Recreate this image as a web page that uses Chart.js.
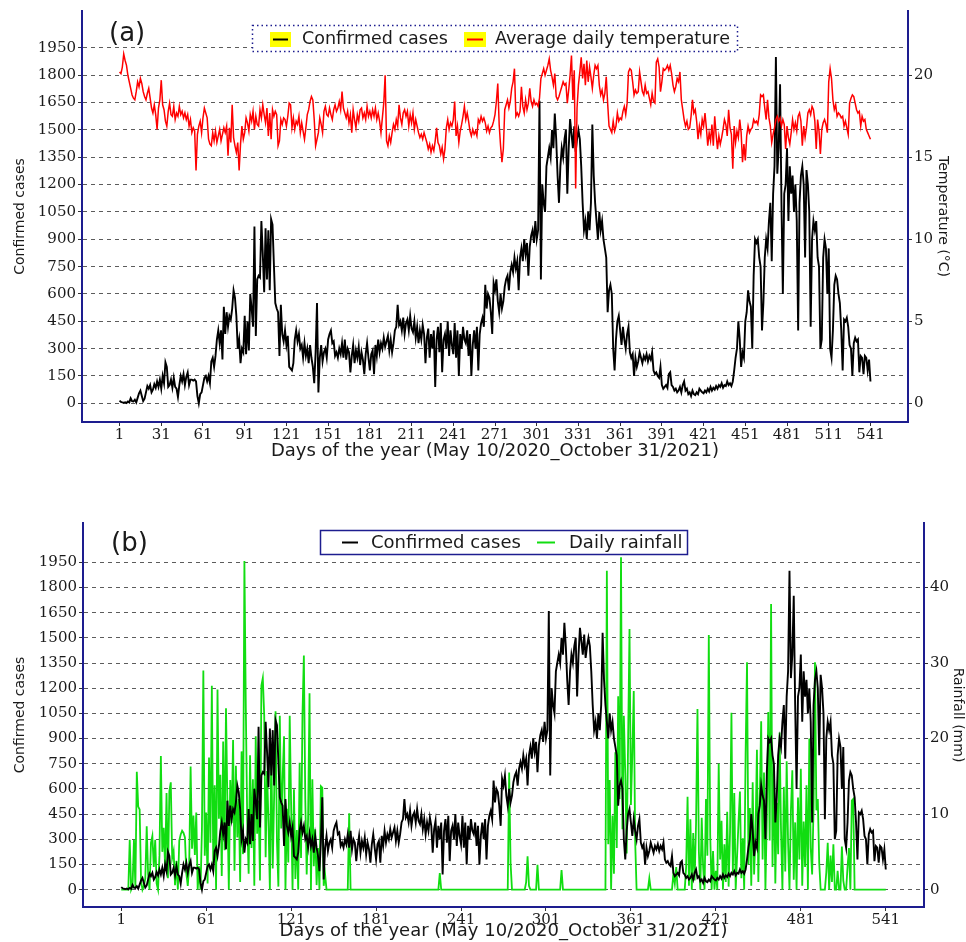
<!DOCTYPE html>
<html>
<head>
<meta charset="utf-8">
<script src="https://cdn.jsdelivr.net/npm/chart.js@4.4.0/dist/chart.umd.min.js"></script>
<style>
html,body{margin:0;padding:0;background:#fff;}
#wrap{position:relative;width:966px;height:942px;overflow:hidden;background:#fff;}
canvas{position:absolute;left:0;}
#ca{top:0;}
#cb{top:470px;}
</style>
</head>
<body>
<div id="wrap">
<canvas id="ca" width="966" height="470"></canvas>
<canvas id="cb" width="966" height="472"></canvas>
</div>
<script>
// ---------------- DATA ----------------
const panelLabels = ['(a)', '(b)'];
const legendA = ['Confirmed cases', 'Average daily temperature'];
const legendB = ['Confirmed cases', 'Daily rainfall'];
const xTitle = 'Days of the year (May 10/2020_October 31/2021)';
const yTitle = 'Confirmed cases';
const tempTitle = 'Temperature (\u00B0C)';
const rainTitle = 'Rainfall (mm)';

const xTicksA = [1, 31, 61, 91, 121, 151, 181, 211, 241, 271, 301, 331, 361, 391, 421, 451, 481, 511, 541];
const xTicksB = [1, 61, 121, 181, 241, 301, 361, 421, 481, 541];
const caseTicks = [0, 150, 300, 450, 600, 750, 900, 1050, 1200, 1350, 1500, 1650, 1800, 1950];
const tempTicks = [0, 5, 10, 15, 20];
const rainTicks = [0, 10, 20, 30, 40];

// daily confirmed cases, day 1..541
const cases = [
15, 8, 5, 3, 6, 2, 10, 5, 28, 12,
10, 20, 5, 30, 55, 70, 40, 12, 25, 60,
95, 80, 100, 60, 75, 105, 85, 120, 90, 130,
80, 150, 110, 225, 200, 90, 100, 130, 85, 140,
90, 80, 35, 100, 150, 120, 160, 100, 145, 170,
100, 130, 130, 125, 130, 120, 40, 0, 50, 60,
100, 140, 150, 120, 150, 110, 230, 250, 200, 260,
350, 400, 330, 400, 240, 530, 380, 500, 420, 480,
460, 520, 620, 580, 480, 300, 350, 220, 300, 280,
480, 270, 450, 290, 600, 520, 420, 970, 370, 680,
700, 690, 1000, 820, 610, 960, 680, 950, 620, 1010,
980, 760, 550, 520, 500, 260, 540, 380, 340, 400,
320, 370, 200, 190, 180, 220, 350, 400, 340, 380,
300, 320, 250, 330, 260, 300, 220, 320, 250, 200,
110, 280, 550, 60, 250, 320, 230, 280, 300, 250,
350, 380, 400, 330, 340, 260, 280, 250, 300, 270,
330, 250, 350, 240, 300, 280, 170, 260, 320, 220,
290, 250, 310, 210, 280, 240, 160, 270, 330, 250,
180, 270, 290, 160, 320, 260, 350, 280, 330, 300,
360, 310, 340, 370, 290, 350, 280, 330, 400, 420,
540, 430, 450, 400, 470, 380, 440, 460, 400, 480,
410, 390, 450, 360, 420, 330, 400, 350, 430, 380,
220, 360, 410, 250, 380, 300, 400, 90, 350, 420,
280, 440, 170, 350, 380, 300, 450, 260, 400, 320,
270, 440, 250, 400, 150, 380, 300, 420, 350, 330,
400, 260, 380, 150, 320, 400, 300, 420, 180, 380,
440, 470, 420, 650, 520, 600, 580, 500, 380, 660,
620, 680, 560, 500, 600, 520, 560, 640, 680, 700,
620, 720, 760, 720, 800, 740, 780, 620, 800, 850,
780, 900, 820, 880, 700, 860, 920, 950, 880, 1000,
900, 950, 1660, 680, 1200, 1100, 1050, 1300, 1350, 1400,
1350, 1500, 1400, 1590, 1450, 1250, 1100, 1300, 1400, 1350,
1450, 1500, 1150, 1400, 1560, 1480, 1400, 1520, 1380, 1450,
1500, 1450, 1300, 1100, 950, 1000, 900, 1050, 950, 1100,
1530, 1250, 1100, 1000, 900, 1050, 950, 1000, 900, 850,
800, 500, 620, 650, 600, 300, 180, 350, 450, 480,
400, 320, 420, 350, 300, 380, 420, 280, 250, 270,
150, 250, 200, 230, 280, 250, 220, 260, 240, 270,
230, 260, 240, 280, 180, 160, 170, 150, 140, 200,
100, 80, 90, 100, 85, 160, 170, 100, 90, 70,
80, 60, 70, 90, 60, 100, 120, 70, 80, 50,
60, 40, 70, 50, 45, 60, 50, 80, 70, 60,
55, 70, 60, 80, 65, 90, 70, 85, 75, 95,
80, 100, 90, 110, 85, 100, 95, 120, 100, 110,
95, 120, 180, 250, 300, 450, 350, 200, 280, 250,
450, 500, 620, 560, 530, 300, 700, 900, 880, 900,
800, 750, 400, 550, 800, 900, 850, 1000, 1100, 780,
1150, 1300, 1900, 1260, 1400, 1750, 1100, 600, 1150, 1200,
1400, 1000, 1300, 1150, 1250, 1050, 1200, 1000, 400, 1100,
1250, 1300, 1200, 800, 1280, 1200, 1050, 420, 900, 1000,
950, 1000, 800, 750, 300, 350, 800, 900, 850, 600,
850, 300, 250, 400, 650, 700, 680, 600, 550, 400,
180, 460, 450, 470, 420, 320, 300, 150, 330, 360,
340, 350, 170, 260, 250, 160, 260, 250, 180, 240,
120
];

// average daily temperature (deg C), day 1..541
const temperature = [
20.2, 20.1, 20.5, 21.3, 20.9, 20.6, 20.0, 19.6, 19.2, 18.8,
18.6, 18.5, 19.0, 19.6, 19.3, 19.8, 19.5, 19.0, 18.7, 18.5,
18.9, 19.2, 18.6, 18.0, 17.7, 18.2, 17.6, 16.7, 18.0, 18.5,
19.7, 18.2, 17.9, 17.2, 16.9, 17.8, 18.3, 17.6, 17.5, 18.1,
17.3, 17.7, 17.5, 18.1, 17.6, 17.8, 17.4, 17.7, 17.3, 17.6,
16.9, 17.3, 16.5, 16.8, 16.6, 14.2, 16.4, 16.9, 17.2, 16.5,
17.4, 18.0, 17.7, 17.4, 16.1, 15.8, 15.7, 16.5, 16.0, 16.6,
15.9, 16.3, 16.7, 16.0, 16.4, 16.8, 16.5, 16.9, 15.1, 16.8,
15.9, 18.2, 16.2, 15.7, 15.3, 15.9, 14.2, 15.8, 16.9, 16.1,
16.5, 17.4, 17.1, 16.6, 17.6, 17.2, 17.8, 16.7, 17.5, 17.0,
16.9, 17.9, 17.4, 18.2, 17.6, 17.1, 18.0, 16.3, 17.7, 16.1,
17.9, 17.5, 17.8, 17.6, 15.7, 16.0, 17.3, 17.0, 17.4, 17.3,
16.9, 17.5, 18.3, 18.2, 16.8, 17.4, 16.7, 17.2, 17.0, 17.5,
16.5, 17.1, 16.6, 16.1, 16.8, 17.6, 17.9, 18.4, 18.7, 18.5,
17.3, 15.7, 16.1, 16.5, 17.4, 17.0, 16.5, 17.8, 18.1, 17.6,
17.5, 18.0, 17.6, 17.3, 17.9, 18.2, 17.8, 18.0, 18.4, 17.9,
19.0, 18.0, 17.7, 17.4, 17.8, 17.1, 17.6, 16.5, 17.9, 17.3,
16.8, 17.6, 17.2, 17.9, 18.0, 17.4, 17.7, 17.3, 18.1, 17.5,
17.8, 17.4, 17.9, 17.5, 18.0, 17.3, 17.7, 17.2, 16.5, 17.4,
18.3, 20.0, 16.0, 15.7, 16.3, 15.9, 16.5, 17.0, 16.7, 17.3,
16.9, 18.2, 17.4, 17.0, 17.7, 17.9, 17.5, 17.8, 16.9, 17.6,
17.1, 17.7, 16.7, 17.3, 16.9, 16.5, 16.2, 16.4, 16.1, 16.5,
16.2, 15.9, 15.5, 15.8, 15.3, 15.7, 15.4, 16.0, 16.8, 15.9,
15.7, 15.2, 15.6, 14.9, 15.5, 16.8, 17.3, 16.7, 17.1, 16.9,
17.3, 18.4, 16.3, 16.9, 15.9, 16.6, 17.0, 17.5, 18.1, 17.3,
17.7, 17.2, 16.6, 16.3, 16.7, 16.4, 16.6, 16.3, 17.3, 17.1,
17.5, 17.2, 17.4, 17.1, 16.6, 16.9, 16.5, 16.8, 16.9, 17.2,
17.6, 18.4, 19.5, 17.0, 15.7, 14.7, 15.5, 17.9, 18.2, 18.5,
18.0, 18.4, 19.2, 19.6, 20.4, 17.5, 17.7, 17.5, 17.8, 19.3,
18.1, 17.7, 18.5, 17.9, 18.3, 19.2, 18.4, 18.1, 18.5, 18.2,
18.3, 18.1, 18.6, 19.8, 20.1, 20.4, 20.0, 20.3, 20.6, 21.0,
20.3, 19.9, 19.4, 20.1, 18.7, 18.5, 18.7, 19.0, 19.3, 19.6,
19.4, 19.5, 18.3, 19.1, 20.0, 21.2, 18.5, 20.3, 13.1, 18.0,
19.4, 20.2, 21.1, 19.8, 20.7, 19.4, 20.9, 19.6, 20.5, 19.9,
19.2, 20.0, 20.6, 20.4, 20.6, 19.4, 18.8, 19.1, 18.5, 18.9,
19.9, 18.3, 16.9, 16.7, 16.5, 17.2, 16.6, 16.9, 17.7, 17.2,
17.4, 17.3, 17.8, 18.1, 17.6, 18.3, 20.2, 20.4, 20.3, 19.6,
18.8, 19.1, 18.9, 19.0, 20.2, 19.6, 19.0, 18.8, 19.4, 18.9,
19.0, 18.6, 18.2, 18.9, 18.4, 18.3, 20.8, 21.0, 20.5, 19.0,
19.6, 20.4, 20.3, 20.4, 20.6, 20.3, 20.6, 20.1, 19.4, 19.0,
19.3, 19.8, 19.6, 20.2, 18.5, 17.9, 17.3, 16.9, 17.2, 16.7,
16.8, 17.5, 18.5, 17.7, 17.9, 17.2, 16.1, 16.9, 16.4, 17.3,
16.9, 17.7, 16.8, 15.7, 16.5, 16.0, 17.0, 15.7, 17.5, 16.4,
15.5, 16.3, 15.8, 16.2, 16.7, 17.3, 17.0, 16.3, 17.9, 16.8,
16.4, 14.3, 16.9, 15.9, 16.6, 16.2, 17.3, 16.5, 14.7, 15.8,
14.8, 16.3, 16.9, 16.5, 16.7, 16.8, 17.3, 17.1, 17.2, 17.0,
17.6, 18.8, 18.7, 18.8, 18.0, 17.3, 18.5, 17.4, 16.9, 15.9,
16.4, 16.8, 17.3, 17.5, 17.2, 17.4, 16.9, 17.3, 17.0, 15.5,
16.9, 16.2, 15.8, 16.5, 17.3, 16.7, 17.1, 16.6, 17.5, 17.7,
17.2, 15.7, 16.9, 16.2, 16.8, 17.7, 17.9, 17.6, 18.1, 17.9,
17.2, 15.5, 17.3, 16.6, 15.2, 16.7, 17.1, 17.3, 17.0, 16.5,
19.6, 20.4, 19.8, 18.5, 17.9, 18.2, 17.5, 17.7, 17.6, 17.4,
17.5, 16.9, 17.2, 16.8, 16.4, 18.3, 18.6, 18.8, 18.7, 18.3,
17.9, 17.7, 17.8, 16.9, 17.5, 17.2, 17.3, 16.7, 16.5, 16.3,
16.1
];

// daily rainfall (mm), day 1..541
const rainfall = [
0, 0, 0, 0, 0, 0, 6.6, 0, 0.5, 6.6,
0.3, 15.6, 11.0, 10.6, 1.2, 0, 0.5, 1.5, 8.4, 2.0,
0, 6.2, 7.1, 3.0, 6.6, 0.8, 0, 4.5, 17.7, 5.0,
8.2, 3.0, 12.8, 1.5, 13.0, 14.2, 4.2, 5.1, 0.6, 3.8,
0, 6.5, 7.3, 7.8, 7.5, 6.9, 2.1, 0.5, 3.2, 16.3,
5.4, 9.8, 4.6, 10.2, 0, 3.1, 0, 8.0, 29.0, 4.5,
10.2, 0.8, 17.5, 6.2, 27.0, 3.5, 13.8, 0, 26.5, 9.4,
15.2, 1.8, 19.6, 5.2, 24.0, 11.3, 0, 14.5, 8.8, 19.8,
2.5, 16.4, 6.9, 12.0, 1.0, 18.3, 4.7, 43.5, 24.0, 9.1,
2.1, 17.8, 5.5, 14.6, 0.5, 20.3, 7.4, 11.8, 1.2, 27.0,
28.0, 23.0, 4.3, 15.7, 9.0, 0, 19.0, 2.8, 12.4, 23.6,
6.3, 0.4, 23.0, 8.1, 14.9, 20.3, 0, 10.7, 3.6, 23.0,
11.2, 0, 13.3, 1.4, 7.9, 0, 16.8, 4.2, 23.0, 31.0,
12.0, 2.0, 9.5, 26.0, 0, 14.6, 3.1, 8.0, 0.6, 5.5,
0, 13.7, 13.5, 0.5, 2.0, 0, 0, 0, 0, 0,
0, 0, 0, 0, 0, 0, 0, 0, 0, 0,
0, 10.1, 0, 0, 0, 0, 0, 0, 0, 0,
0, 0, 0, 0, 0, 0, 0, 0, 0, 0,
0, 0, 0, 0, 0, 0, 0, 0, 0, 0,
0, 0, 0, 0, 0, 0, 0, 0, 0, 0,
0, 0, 0, 0, 0, 0, 0, 0, 0, 0,
0, 0, 0, 0, 0, 0, 0, 0, 0, 0,
0, 0, 0, 0, 0, 2.2, 0, 0, 0, 0,
0, 0, 0, 0, 0, 0, 0, 0, 0, 0,
0, 0, 0, 0, 0, 0, 0, 0, 0, 0,
0, 0, 0, 0, 0, 0, 0, 0, 0, 0,
0, 0, 0, 0, 0, 0, 0, 0, 0, 0,
0, 0, 0, 0, 15.5, 3.5, 0, 0, 0, 0,
0, 0, 0, 0, 0, 0, 1.0, 4.4, 0.5, 0,
0, 0, 0, 0, 3.3, 0, 0, 0, 0, 0,
0, 0, 0, 0, 0, 0, 0, 0, 0, 0,
0, 2.6, 0, 0, 0, 0, 0, 0, 0, 0,
0, 0, 0, 0, 0, 0, 0, 0, 0, 0,
0, 0, 0, 0, 0, 0, 0, 0, 0, 0,
0, 0, 0, 42.2, 6.0, 14.5, 0, 9.8, 2.1, 18.2,
5.5, 25.6, 12.0, 44.0, 8.0, 23.0, 15.4, 4.8, 19.6, 34.5,
11.2, 18.0, 26.3, 6.4, 0, 0, 0, 0, 0, 0,
0, 0, 0, 1.5, 0, 0, 0, 0, 0, 0,
0, 0, 0, 0, 0, 0, 0, 0, 0, 0,
2.1, 0.8, 3.0, 0, 0, 0, 0, 0, 0, 3.0,
12.3, 0.5, 9.3, 0, 7.5, 1.2, 8.8, 23.9, 5.0, 0,
9.5, 3.0, 0, 12.0, 4.5, 33.7, 7.2, 0, 5.1, 0,
2.5, 0, 16.7, 4.0, 9.1, 0, 6.0, 1.0, 10.3, 0.4,
7.6, 23.4, 2.2, 12.8, 0, 4.5, 9.0, 13.0, 1.5, 6.8,
0, 18.0, 30.1, 3.3, 10.8, 0.5, 14.2, 2.0, 7.5, 18.5,
1.0, 12.0, 22.3, 4.0, 15.5, 0, 9.8, 23.5, 6.5, 37.8,
3.0, 16.3, 0.8, 11.5, 4.7, 20.8, 8.0, 0, 13.6, 2.4,
17.0, 6.2, 0, 10.5, 15.8, 1.3, 8.9, 0, 12.2, 4.0,
16.0, 0.5, 9.0, 3.0, 13.8, 0, 20.0, 5.5, 2.0, 11.0,
30.1, 10.5, 12.0, 3.5, 0, 0, 0, 0, 2.3, 6.2,
0, 4.5, 1.0, 6.0, 0, 0, 2.5, 0, 0, 5.7,
1.2, 0, 0, 3.0, 5.5, 0, 11.8, 12.0, 0, 0,
0, 0, 0, 0, 0, 0, 0, 0, 0, 0,
0, 0, 0, 0, 0, 0, 0, 0, 0, 0,
0
];

const days = cases.map((_, i) => i + 1);

// ---------------- STYLE / HELPERS ----------------
const AXIS = '#1d1d8f';
const GRID = '#5c5c5c';
const TXT = '#1a1a1a';
const serifTick = {family: "'DejaVu Serif', serif", size: 15};
const sans = size => ({family: "'DejaVu Sans', sans-serif", size: size});
const setTicks = list => scale => { scale.ticks = list.map(v => ({value: v})); };
const plainLabel = v => String(v);
const toPoints = arr => arr.map((v, i) => ({x: days[i], y: v}));

function makeScales(o) {
  return {
    x: {
      type: 'linear', min: -26, max: 568,
      afterBuildTicks: setTicks(o.xTicks),
      afterFit: s => { s.height = o.xH; },
      grid: {display: true, drawOnChartArea: false, drawTicks: true, tickLength: 4, tickColor: '#333', tickWidth: 1},
      border: {display: true, color: AXIS, width: 2},
      ticks: {font: serifTick, color: TXT, padding: o.xPad, maxRotation: 0, autoSkip: false, callback: plainLabel},
      title: {display: true, text: xTitle, font: sans(18), color: TXT, padding: {top: 0, bottom: o.xTitlePad}}
    },
    y: {
      position: 'left', min: o.yMin, max: o.yMax,
      afterBuildTicks: setTicks(caseTicks),
      afterFit: s => { s.width = o.yW; },
      grid: {display: true, color: GRID, lineWidth: 1, drawTicks: true, tickLength: 4, tickColor: '#333', tickWidth: 1},
      border: {display: true, color: AXIS, width: 2, dash: [4, 4]},
      ticks: {font: serifTick, color: TXT, padding: 2, autoSkip: false, callback: plainLabel},
      title: {display: true, text: yTitle, font: sans(14), color: TXT, padding: {top: o.yTitlePad, bottom: 0}}
    },
    y2: {
      position: 'right', min: o.y2Min, max: o.y2Max,
      afterBuildTicks: setTicks(o.y2Ticks),
      afterFit: s => { s.width = o.y2W; },
      grid: {display: true, drawOnChartArea: false, drawTicks: true, tickLength: 4, tickColor: '#333', tickWidth: 1},
      border: {display: true, color: AXIS, width: 2},
      ticks: {font: serifTick, color: TXT, padding: 2, autoSkip: false, callback: plainLabel},
      title: {display: true, text: o.y2Title, font: sans(14), color: TXT, padding: {top: o.y2TitlePad, bottom: 0}}
    }
  };
}

function line(ctx, x1, y1, x2, y2) {
  ctx.beginPath(); ctx.moveTo(x1, y1); ctx.lineTo(x2, y2); ctx.stroke();
}

const decorA = {
  id: 'decorA',
  afterDraw(chart) {
    const ctx = chart.ctx;
    ctx.save();
    ctx.fillStyle = '#fff';
    ctx.fillRect(252, 25, 485, 26);
    ctx.strokeStyle = AXIS; ctx.lineWidth = 1.5; ctx.setLineDash([1.5, 3]);
    ctx.strokeRect(252.5, 25.5, 485, 26);
    ctx.setLineDash([]);
    ctx.fillStyle = '#ffff00';
    ctx.fillRect(270, 32, 21, 15);
    ctx.fillRect(464, 32, 22, 15);
    ctx.lineWidth = 2;
    ctx.strokeStyle = '#000'; line(ctx, 273, 39.5, 288, 39.5);
    ctx.strokeStyle = '#ff0000'; line(ctx, 467, 39.5, 483, 39.5);
    ctx.fillStyle = TXT;
    ctx.font = "17.5px 'DejaVu Sans', sans-serif";
    ctx.textBaseline = 'middle';
    ctx.fillText(legendA[0], 302, 39);
    ctx.fillText(legendA[1], 495, 39);
    ctx.font = "26px 'DejaVu Sans', sans-serif";
    ctx.fillText(panelLabels[0], 109, 34);
    ctx.restore();
  }
};

const decorB = {
  id: 'decorB',
  afterDraw(chart) {
    const ctx = chart.ctx;
    ctx.save();
    ctx.fillStyle = '#fff';
    ctx.fillRect(320, 60, 367, 24);
    ctx.strokeStyle = AXIS; ctx.lineWidth = 1.5;
    ctx.strokeRect(320.5, 60.5, 367, 24);
    ctx.lineWidth = 2;
    ctx.strokeStyle = '#000'; line(ctx, 342, 72.5, 358, 72.5);
    ctx.strokeStyle = '#11dd11'; line(ctx, 537, 72.5, 555, 72.5);
    ctx.fillStyle = TXT;
    ctx.font = "18px 'DejaVu Sans', sans-serif";
    ctx.textBaseline = 'middle';
    ctx.fillText(legendB[0], 371, 73);
    ctx.fillText(legendB[1], 569, 73);
    ctx.font = "26px 'DejaVu Sans', sans-serif";
    ctx.fillText(panelLabels[1], 111, 74);
    ctx.restore();
  }
};

// ---------------- CHART (a) ----------------
new Chart(document.getElementById('ca'), {
  type: 'line',
  data: {
    datasets: [
      {label: legendA[0], data: toPoints(cases), yAxisID: 'y', borderColor: '#000', borderWidth: 1.9,
       pointRadius: 0, tension: 0, order: 2},
      {label: legendA[1], data: toPoints(temperature), yAxisID: 'y2', borderColor: '#ff0000', borderWidth: 1.5,
       pointRadius: 0, tension: 0, order: 1}
    ]
  },
  options: {
    responsive: false, animation: false, devicePixelRatio: 1,
    layout: {padding: {top: 10, left: 0, right: 0, bottom: 0}},
    plugins: {legend: {display: false}, tooltip: {enabled: false}},
    scales: makeScales({
      xTicks: xTicksA, xH: 48, xPad: 0, xTitlePad: 8,
      yMin: -102.5, yMax: 2152.5, yW: 82, yTitlePad: 12,
      y2Min: -102.5 / 90, y2Max: 2152.5 / 90, y2Ticks: tempTicks, y2W: 58, y2Title: tempTitle, y2TitlePad: 15
    })
  },
  plugins: [decorA]
});

// ---------------- CHART (b) ----------------
new Chart(document.getElementById('cb'), {
  type: 'line',
  data: {
    datasets: [
      {label: legendB[0], data: toPoints(cases), yAxisID: 'y', borderColor: '#000', borderWidth: 1.9,
       pointRadius: 0, tension: 0, order: 1},
      {label: legendB[1], data: toPoints(rainfall), yAxisID: 'y2', borderColor: '#11dd11', borderWidth: 1.8,
       pointRadius: 0, tension: 0, order: 2}
    ]
  },
  options: {
    responsive: false, animation: false, devicePixelRatio: 1,
    layout: {padding: {top: 53, left: 0, right: 0, bottom: 0}},
    plugins: {legend: {display: false}, tooltip: {enabled: false}},
    scales: makeScales({
      xTicks: xTicksB, xH: 35, xPad: 0, xTitlePad: 0,
      yMin: -103.5, yMax: 2184, yW: 83, yTitlePad: 12,
      y2Min: -103.5 / 45, y2Max: 2184 / 45, y2Ticks: rainTicks, y2W: 42, y2Title: rainTitle, y2TitlePad: 0
    })
  },
  plugins: [decorB]
});
</script>
</body>
</html>
